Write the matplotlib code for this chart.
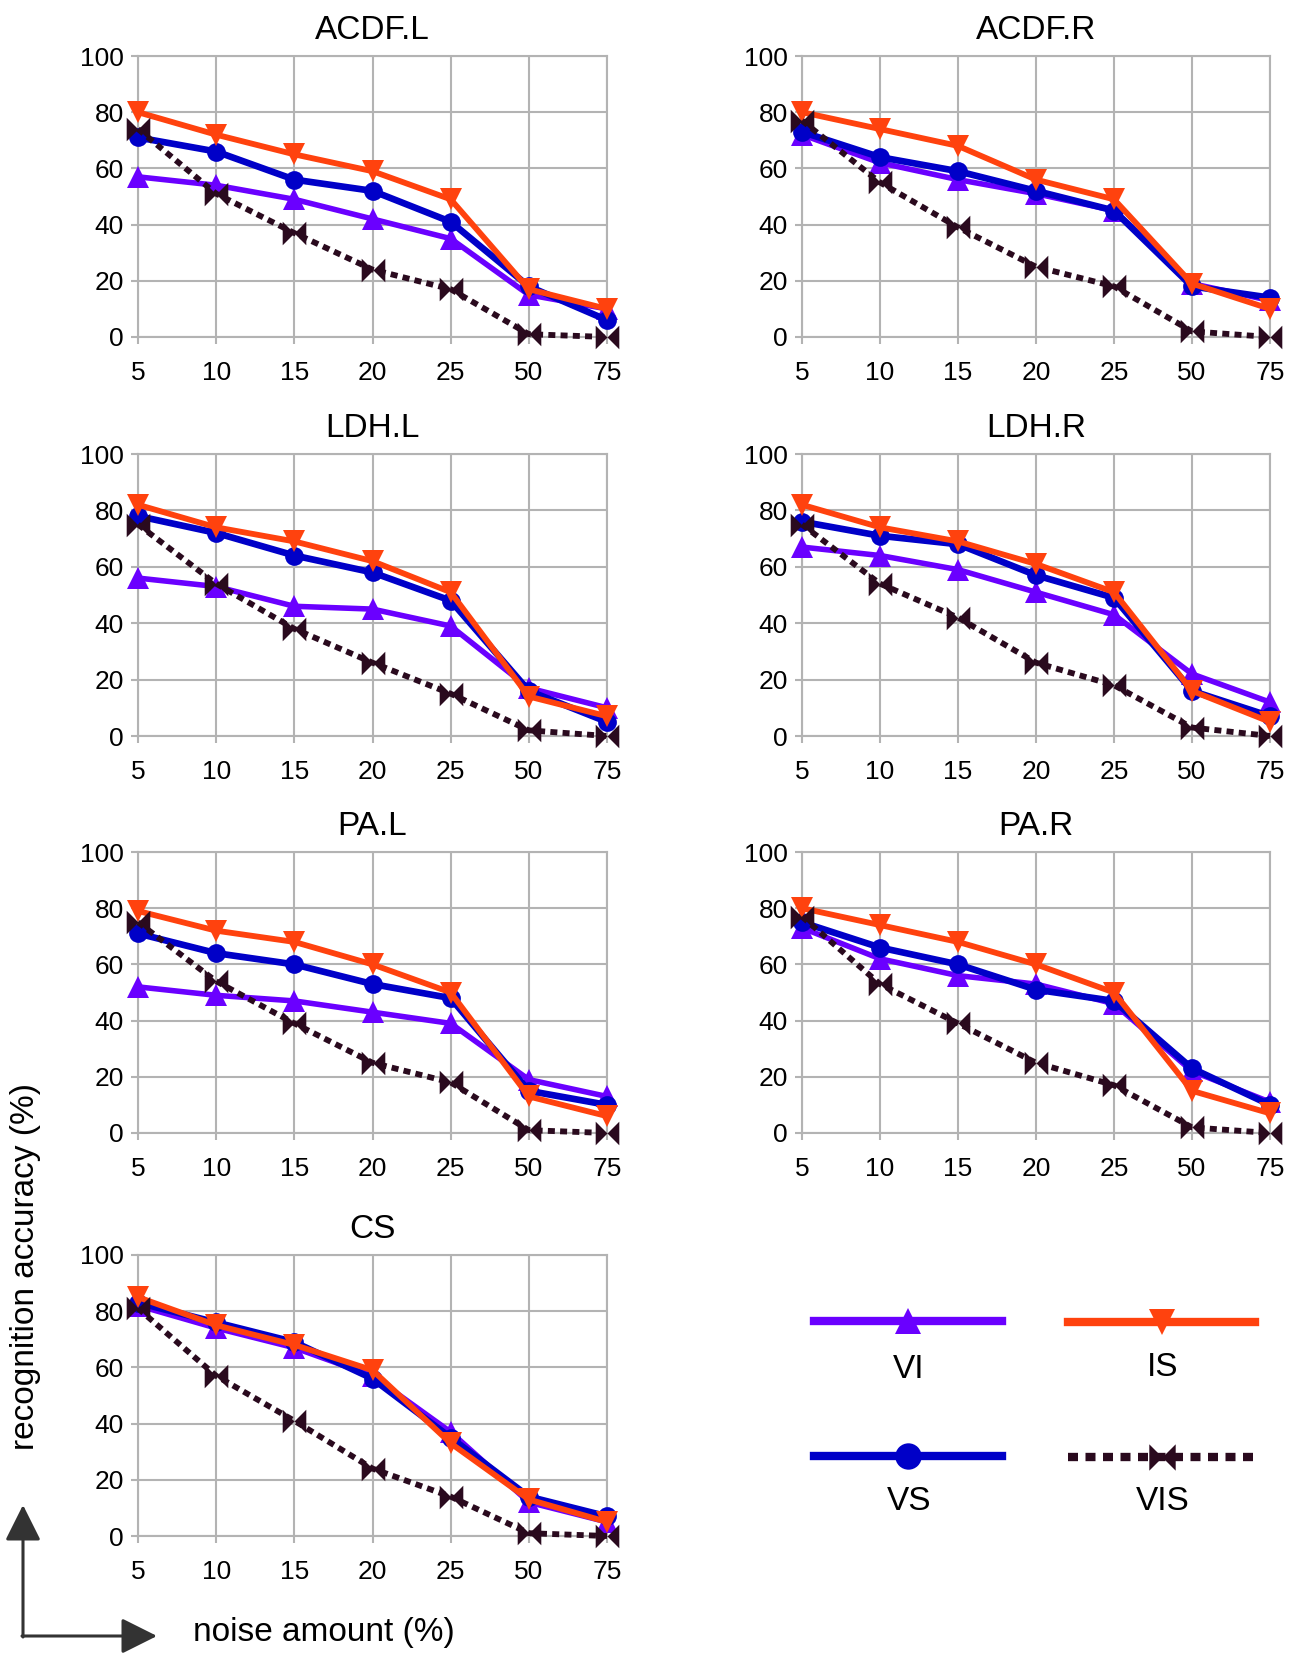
import matplotlib
matplotlib.use("Agg")
import matplotlib.pyplot as plt
from matplotlib.path import Path

plt.rcParams['font.family'] = ['Liberation Sans', 'DejaVu Sans']

# ---------------- data ----------------
noise_labels = ["5", "10", "15", "20", "25", "50", "75"]
panel_titles = ["ACDF.L", "ACDF.R", "LDH.L", "LDH.R", "PA.L", "PA.R", "CS"]
series_names = ["VI", "VS", "IS", "VIS"]

VI = {
    "ACDF.L": [57, 54, 49, 42, 35, 15, 10],
    "ACDF.R": [72, 62, 56, 51, 45, 19, 13],
    "LDH.L":  [56, 53, 46, 45, 39, 17, 10],
    "LDH.R":  [67, 64, 59, 51, 43, 22, 12],
    "PA.L":   [52, 49, 47, 43, 39, 19, 13],
    "PA.R":   [73, 62, 56, 53, 46, 22, 11],
    "CS":     [82, 74, 67, 57, 37, 12, 5],
}
VS = {
    "ACDF.L": [71, 66, 56, 52, 41, 18, 6],
    "ACDF.R": [73, 64, 59, 52, 45, 18, 14],
    "LDH.L":  [78, 72, 64, 58, 48, 16, 5],
    "LDH.R":  [76, 71, 68, 57, 49, 16, 7],
    "PA.L":   [71, 64, 60, 53, 48, 15, 10],
    "PA.R":   [75, 66, 60, 51, 47, 23, 10],
    "CS":     [83, 76, 69, 56, 35, 14, 7],
}
IS = {
    "ACDF.L": [80, 72, 65, 59, 49, 17, 10],
    "ACDF.R": [80, 74, 68, 56, 49, 19, 10],
    "LDH.L":  [82, 74, 69, 62, 51, 14, 7],
    "LDH.R":  [82, 74, 69, 61, 51, 16, 5],
    "PA.L":   [79, 72, 68, 60, 50, 13, 6],
    "PA.R":   [80, 74, 68, 60, 50, 15, 7],
    "CS":     [85, 75, 68, 59, 33, 13, 5],
}
VIS = {
    "ACDF.L": [74, 51, 37, 24, 17, 1, 0],
    "ACDF.R": [77, 55, 39, 25, 18, 2, 0],
    "LDH.L":  [75, 54, 38, 26, 15, 2, 0],
    "LDH.R":  [75, 54, 42, 26, 18, 3, 0],
    "PA.L":   [75, 54, 39, 25, 18, 1, 0],
    "PA.R":   [77, 53, 39, 25, 17, 2, 0],
    "CS":     [81, 57, 41, 24, 14, 1, 0],
}
y_ticks = [0, 20, 40, 60, 80, 100]

# ---------------- style ----------------
W, H = 1300, 1653
C_VI, C_VS, C_IS, C_VIS = "#6a00ff", "#0000c8", "#ff420e", "#2a0a1e"
GRID = "#b3b3b3"
bowtie = Path([(-1, -1), (0, 0), (1, -1), (1, 1), (0, 0), (-1, 1), (-1, -1)])

styles = {
    "VI": dict(color=C_VI, lw=4.0, marker="^", ms=16, zorder=3),
    "VS": dict(color=C_VS, lw=4.8, marker="o", ms=13.5, zorder=4),
    "IS": dict(color=C_IS, lw=4.2, marker="v", ms=16, zorder=5),
    "VIS": dict(color=C_VIS, lw=4.2, marker=bowtie, ms=17, zorder=6,
                ls=(0, (1.2, 0.9)), dash_capstyle="butt"),
}
data = {"VI": VI, "VS": VS, "IS": IS, "VIS": VIS}

boxes = {
    "ACDF.L": (138, 56, 607, 337),
    "ACDF.R": (802, 56, 1270, 337),
    "LDH.L": (138, 454, 607, 736),
    "LDH.R": (802, 454, 1270, 736),
    "PA.L": (138, 852, 607, 1133),
    "PA.R": (802, 852, 1270, 1133),
    "CS": (138, 1255, 607, 1536),
}

fig = plt.figure(figsize=(W / 100, H / 100), dpi=100)

xpos = list(range(len(noise_labels)))
for name in panel_titles:
    l, t, r, b = boxes[name]
    ax = fig.add_axes([l / W, 1 - b / H, (r - l) / W, (b - t) / H])
    for s in series_names:
        st = styles[s]
        ax.plot(xpos, data[s][name], color=st["color"], lw=st["lw"],
                marker=st["marker"], ms=st["ms"], zorder=st["zorder"],
                ls=st.get("ls", "-"), dash_capstyle=st.get("dash_capstyle", "butt"),
                markeredgewidth=0, clip_on=False)
    ax.set_xlim(0, len(noise_labels) - 1)
    ax.set_ylim(0, 100)
    ax.set_xticks(xpos)
    ax.set_xticklabels(noise_labels)
    ax.set_yticks(y_ticks)
    ax.grid(True, color=GRID, lw=1.5, zorder=0)
    ax.set_axisbelow(True)
    for sp in ax.spines.values():
        sp.set_color(GRID)
        sp.set_linewidth(1.5)
    ax.tick_params(axis="both", colors=GRID, labelcolor="black", length=5,
                   width=1.5, labelsize=19)
    ax.tick_params(axis="x", pad=12)
    ax.tick_params(axis="y", pad=5)
    ax.set_title(name, fontsize=24, pad=12)

# ---------------- overlay: axis names, arrows, legend ----------------
ov = fig.add_axes([0, 0, 1, 1])
ov.set_xlim(0, W)
ov.set_ylim(H, 0)
ov.axis("off")
ov.patch.set_visible(False)

ov.text(26, 1266, "recognition accuracy (%)", rotation=90, ha="center",
        va="center", fontsize=24)
ov.text(324, 1633, "noise amount (%)", ha="center", va="center", fontsize=24)

arrow_kw = dict(arrowstyle="-|>,head_length=1.0,head_width=0.5", color="#333333",
                lw=2.2, mutation_scale=22, shrinkA=0, shrinkB=0)
ov.annotate("", xy=(23, 1505), xytext=(23, 1637), arrowprops=arrow_kw)
ov.annotate("", xy=(157, 1636), xytext=(22, 1636), arrowprops=arrow_kw)

legend_spec = [
    ("VI", 814, 1002, 1321, 909, 1370),
    ("IS", 1068, 1255, 1322, 1163, 1367),
    ("VS", 814, 1002, 1456, 909, 1502),
    ("VIS", 1068, 1255, 1457, 1163, 1502),
]
for s, x0, x1, yy, tx, ty in legend_spec:
    st = styles[s]
    ov.plot([x0, (x0 + x1) / 2, x1], [yy, yy, yy], color=st["color"], lw=6,
            ls=st.get("ls", "-") if s != "VIS" else (0, (1.2, 0.9)),
            dash_capstyle="butt", marker=st["marker"], markevery=[1],
            ms=19, markeredgewidth=0)
    ov.text(tx, ty, s, ha="center", va="center", fontsize=24)

fig.savefig("out.png", dpi=100, facecolor="white")
